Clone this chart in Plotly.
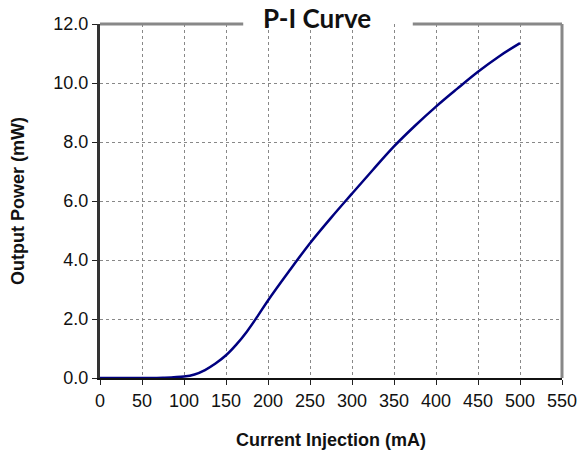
import plotly.graph_objects as go

current_ma = [0, 25, 50, 75, 100, 112.5, 125, 137.5, 150, 162.5, 175, 187.5, 200, 225, 250,
              275, 300, 325, 350, 375, 400, 425, 450, 475, 500]
power_mw = [0.0, 0.0, 0.003, 0.01, 0.05, 0.12, 0.27, 0.49, 0.77, 1.14, 1.58, 2.09, 2.63, 3.62, 4.57,
            5.43, 6.25, 7.06, 7.85, 8.55, 9.2, 9.8, 10.38, 10.9, 11.35]

x_ticks = list(range(0, 551, 50))
y_ticks = [0, 2, 4, 6, 8, 10, 12]
y_tick_labels = ["0.0", "2.0", "4.0", "6.0", "8.0", "10.0", "12.0"]

title_text = "P-I Curve"
x_title = "Current Injection (mA)"
y_title = "Output Power (mW)"

fig = go.Figure()
fig.add_trace(go.Scatter(x=current_ma, y=power_mw, mode="lines",
                         line=dict(color="#000080", width=2.5, shape="spline", smoothing=1.0),
                         showlegend=False, hoverinfo="skip"))

tickfont = dict(family="Liberation Sans, Arial", size=18, color="#111111")
titlefont = dict(family="Liberation Sans, Arial", size=18, color="#111111", weight="bold")
fig.update_layout(
    width=579, height=456,
    margin=dict(l=100, r=17, t=24, b=78),
    paper_bgcolor="white", plot_bgcolor="white",
    xaxis=dict(range=[0, 550], tickvals=x_ticks, ticks="outside", ticklen=5, tickwidth=1,
               tickcolor="#222222", showline=True, linecolor="#111111", linewidth=2,
               showgrid=True, gridcolor="#888888", gridwidth=1, griddash="dot",
               zeroline=False, tickfont=tickfont, automargin=False,
               title=dict(text=x_title, font=titlefont, standoff=24)),
    yaxis=dict(range=[0, 12], tickvals=y_ticks, ticktext=y_tick_labels, ticks="outside",
               ticklen=5, tickwidth=1, tickcolor="#222222", showline=True, linecolor="#333333",
               linewidth=3, showgrid=True, gridcolor="#888888", gridwidth=1, griddash="dot",
               zeroline=False, tickfont=tickfont, automargin=False,
               title=dict(text=y_title, font=titlefont, standoff=25)),
    shapes=[
        dict(type="line", xref="paper", yref="paper", x0=0, x1=0.31, y0=1, y1=1,
             line=dict(color="#888888", width=3)),
        dict(type="line", xref="paper", yref="paper", x0=0.677, x1=1, y0=1, y1=1,
             line=dict(color="#888888", width=3)),
        dict(type="line", xref="paper", yref="paper", x0=1, x1=1, y0=0, y1=1,
             line=dict(color="#888888", width=3)),
    ],
    annotations=[
        dict(text="<b>" + title_text + "</b>", xref="paper", yref="paper", x=0.47, y=1.0,
             xanchor="center", yanchor="middle", yshift=6, showarrow=False,
             font=dict(family="Lato, Open Sans", size=26, color="#111111")),
    ],
)

fig.write_html("out.html")
